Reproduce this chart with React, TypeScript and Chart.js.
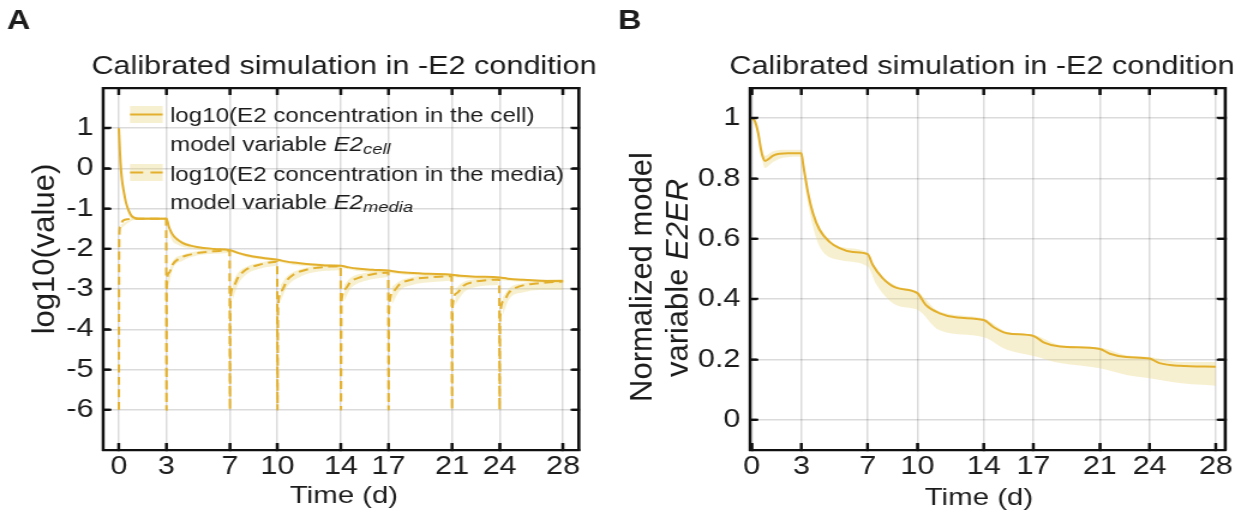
import React, { useEffect, useRef } from "react";
import { Chart, registerables } from "chart.js";

Chart.register(...registerables);

// ---------- data ----------
const dayTicks = [0, 3, 7, 10, 14, 17, 21, 24, 28];
const logTicks = [-6, -5, -4, -3, -2, -1, 0, 1];
const e2erTicks = [0, 0.2, 0.4, 0.6, 0.8, 1];

// Panel A: log10(E2 in the cell)
const cellT = [0, 0.05, 0.1, 0.2, 0.3, 0.45, 0.6, 0.8, 1.0, 1.3, 2.0, 3.0, 3.15, 3.35, 3.6, 4.0, 4.5, 5.0, 6.0, 7.0, 7.5, 8.0, 9.0, 10.0, 10.5, 11.0, 12.0, 13.0, 14.0, 14.5, 15.0, 16.0, 17.0, 17.5, 18.0, 19.5, 21.0, 21.5, 22.5, 24.0, 24.5, 25.5, 26.5, 28.0];
const cellV = [1.0, 0.55, 0.15, -0.3, -0.55, -0.85, -1.03, -1.18, -1.23, -1.25, -1.25, -1.25, -1.45, -1.62, -1.74, -1.85, -1.92, -1.96, -2.0, -2.03, -2.1, -2.15, -2.22, -2.27, -2.31, -2.34, -2.38, -2.41, -2.42, -2.46, -2.49, -2.52, -2.54, -2.57, -2.59, -2.62, -2.64, -2.67, -2.69, -2.71, -2.74, -2.77, -2.79, -2.8];
const cellBandT = [0, 0.5, 1, 3, 3.3, 3.7, 4.5, 5.5, 7, 8, 10, 11, 14, 15, 17, 18, 21, 22, 24, 25, 28];
const cellHi = [1.0, -0.9, -1.2, -1.22, -1.55, -1.72, -1.88, -1.96, -2.0, -2.12, -2.24, -2.32, -2.4, -2.47, -2.52, -2.57, -2.62, -2.66, -2.69, -2.73, -2.77];
const cellLo = [1.0, -1.0, -1.27, -1.28, -1.75, -1.9, -1.99, -2.04, -2.08, -2.2, -2.32, -2.4, -2.47, -2.55, -2.6, -2.64, -2.7, -2.74, -2.78, -2.81, -2.86];

// Panel A: log10(E2 in the media)
const mediaT = [0, 0.02, 0.08, 0.25, 0.6, 1.0, 2.0, 2.98, 3.0, 3.02, 3.15, 3.4, 3.8, 4.4, 5.2, 6.0, 6.98, 7.0, 7.03, 7.2, 7.5, 8.0, 8.8, 9.5, 9.98, 10.0, 10.03, 10.25, 10.6, 11.0, 11.7, 12.5, 13.3, 13.98, 14.0, 14.03, 14.25, 14.6, 15.1, 16.0, 16.98, 17.0, 17.03, 17.3, 17.7, 18.4, 19.5, 20.98, 21.0, 21.03, 21.3, 21.7, 22.4, 23.2, 23.98, 24.0, 24.03, 24.25, 24.6, 25.2, 26.3, 27.2, 28.0];
const mediaV = [-6, -1.8, -1.45, -1.3, -1.26, -1.25, -1.25, -1.25, -6, -2.9, -2.6, -2.38, -2.24, -2.15, -2.09, -2.06, -2.04, -6, -3.3, -2.95, -2.72, -2.52, -2.4, -2.34, -2.32, -6, -3.5, -3.04, -2.78, -2.64, -2.53, -2.47, -2.44, -2.43, -6, -3.33, -3.0, -2.82, -2.72, -2.63, -2.59, -6, -3.5, -3.05, -2.88, -2.77, -2.71, -2.68, -6, -3.45, -3.1, -2.92, -2.82, -2.78, -2.76, -6, -3.7, -3.3, -3.08, -2.94, -2.86, -2.83, -2.81];
const mediaBandT = [0.1, 1, 2.95, 3, 3.1, 3.4, 4, 5, 6.95, 7, 7.15, 7.5, 8, 9, 9.95, 10, 10.2, 10.6, 11.5, 12.5, 13.95, 14, 14.2, 14.6, 15.5, 16.95, 17, 17.2, 17.7, 18.5, 20, 20.95, 21, 21.2, 21.7, 22.5, 23.95, 24, 24.2, 24.6, 25.5, 26.5, 28];
const mediaHi = [-1.4, -1.23, -1.22, null, -2.65, -2.3, -2.15, -2.05, -2.0, null, -2.85, -2.6, -2.45, -2.33, -2.27, null, -2.9, -2.68, -2.5, -2.42, -2.39, null, -2.9, -2.72, -2.6, -2.54, null, -2.95, -2.8, -2.7, -2.65, -2.63, null, -3.0, -2.83, -2.75, -2.72, null, -3.2, -2.98, -2.85, -2.79, -2.75];
const mediaLo = [-1.5, -1.28, -1.28, null, -3.0, -2.5, -2.3, -2.16, -2.1, null, -3.3, -2.9, -2.65, -2.48, -2.42, null, -3.3, -2.95, -2.68, -2.57, -2.53, null, -3.3, -3.0, -2.8, -2.7, null, -3.4, -3.05, -2.9, -2.82, -2.79, null, -3.4, -3.1, -2.95, -2.9, null, -3.65, -3.25, -3.08, -3.02, -3.02];

// Panel B: normalized E2ER
const e2erT = [0, 0.2, 0.4, 0.55, 0.7, 0.82, 1.0, 1.3, 1.7, 2.2, 3.0, 3.1, 3.25, 3.45, 3.7, 4.1, 4.7, 5.3, 6.1, 7.0, 7.3, 7.9, 8.7, 10.0, 10.5, 11.3, 12.4, 14.0, 14.6, 15.4, 17.0, 17.6, 18.6, 21.0, 21.6, 22.6, 24.0, 24.6, 25.8, 28.0];
const e2erV = [1.0, 0.99, 0.95, 0.9, 0.867, 0.858, 0.864, 0.876, 0.882, 0.884, 0.884, 0.85, 0.8, 0.74, 0.685, 0.63, 0.59, 0.569, 0.556, 0.549, 0.514, 0.47, 0.438, 0.42, 0.381, 0.354, 0.339, 0.331, 0.307, 0.287, 0.278, 0.257, 0.243, 0.235, 0.219, 0.208, 0.203, 0.188, 0.179, 0.176];
const e2erBandT = [0, 0.4, 0.8, 1.3, 2, 3, 3.3, 3.7, 4.1, 5.3, 7, 7.5, 8.7, 10, 11.3, 14, 15.4, 17, 18.6, 21, 22.6, 24, 25.8, 28];
const e2erHi = [1.0, 0.96, 0.875, 0.89, 0.895, 0.895, 0.79, 0.7, 0.64, 0.575, 0.555, 0.5, 0.445, 0.425, 0.36, 0.336, 0.292, 0.282, 0.248, 0.24, 0.214, 0.208, 0.192, 0.192];
const e2erLo = [1.0, 0.94, 0.835, 0.855, 0.87, 0.872, 0.75, 0.64, 0.574, 0.53, 0.508, 0.45, 0.381, 0.365, 0.298, 0.274, 0.232, 0.212, 0.188, 0.171, 0.149, 0.138, 0.122, 0.113];

const titleText = "Calibrated simulation in -E2 condition";
const xTitle = "Time (d)";
const yTitleA = "log10(value)";
const legendLine1 = "log10(E2 concentration in the cell)";
const legendLine3 = "log10(E2 concentration in the media)";

// ---------- styling / geometry ----------
const TOTAL_W = 1039; // internal canvas width, shown stretched to 1247 px
const S = 1247 / TOTAL_W;
const H = 523;
const WA = 500;
const WB = TOTAL_W - WA;
const LEFT_B_PAGE = WA * S;
const FONT = "'Liberation Sans', Arial, Helvetica, sans-serif";
const INK = "#1c1c1c";
const FRAME = "#111111";
const LINE = "#E3B02E";
const BAND = "rgba(233, 214, 125, 0.36)";
const GRID = "rgba(0,0,0,0.14)";
const TICK_IN = -7;

const pts = (xs: number[], ys: (number | null)[]) => xs.map((x, i) => ({ x, y: ys[i] }));

type Run = { text: string; font: string; dy?: number };

function runsWidth(ctx: CanvasRenderingContext2D, runs: Run[]) {
  let w = 0;
  for (const r of runs) {
    ctx.font = r.font;
    w += ctx.measureText(r.text).width;
  }
  return w;
}
function drawRuns(ctx: CanvasRenderingContext2D, runs: Run[], x: number, y: number, align: "left" | "center" = "left") {
  let cx = align === "center" ? x - runsWidth(ctx, runs) / 2 : x;
  ctx.textAlign = "left";
  for (const r of runs) {
    ctx.font = r.font;
    ctx.fillText(r.text, cx, y + (r.dy || 0));
    cx += ctx.measureText(r.text).width;
  }
}
// rotated text drawn in undistorted page units
function drawRotated(ctx: CanvasRenderingContext2D, runs: Run[], pageX: number, pageY: number, canvasLeft: number) {
  ctx.save();
  ctx.scale(1 / S, 1);
  ctx.translate(pageX - canvasLeft, pageY);
  ctx.rotate(-Math.PI / 2);
  ctx.textBaseline = "alphabetic";
  drawRuns(ctx, runs, 0, 0, "center");
  ctx.restore();
}

// box around the plot area with inward ticks on all four sides
function drawFrame(chart: any, xTicks: number[], yTicks: number[]) {
  const ctx = chart.ctx as CanvasRenderingContext2D;
  const a = chart.chartArea;
  const xs = chart.scales.x;
  const ys = chart.scales.y;
  ctx.save();
  ctx.setLineDash([]);
  ctx.globalAlpha = 1;
  ctx.globalCompositeOperation = "source-over";
  ctx.strokeStyle = FRAME;
  ctx.lineWidth = 2.2;
  ctx.beginPath();
  ctx.rect(a.left, a.top, a.right - a.left, a.bottom - a.top);
  for (const v of xTicks) {
    const p = xs.getPixelForValue(v);
    ctx.moveTo(p, a.bottom);
    ctx.lineTo(p, a.bottom - 7);
    ctx.moveTo(p, a.top);
    ctx.lineTo(p, a.top + 7);
  }
  for (const v of yTicks) {
    const p = ys.getPixelForValue(v);
    ctx.moveTo(a.left, p);
    ctx.lineTo(a.left + 7 / S, p);
    ctx.moveTo(a.right, p);
    ctx.lineTo(a.right - 7 / S, p);
  }
  ctx.stroke();
  ctx.restore();
}

const decorA = {
  id: "decorA",
  afterDraw(chart: any) {
    const ctx = chart.ctx as CanvasRenderingContext2D;
    ctx.save();
    ctx.fillStyle = INK;
    ctx.textBaseline = "alphabetic";
    drawRuns(ctx, [{ text: "A", font: `bold 27px ${FONT}` }], 7 / S, 29);
    drawRuns(ctx, [{ text: titleText, font: `25.5px ${FONT}` }], 344 / S, 74, "center");
    drawRuns(ctx, [{ text: xTitle, font: `24.5px ${FONT}` }], 344 / S, 503, "center");
    drawRotated(ctx, [{ text: yTitleA, font: `31px ${FONT}` }], 54, 249, 0);

    // legend
    const rx0 = 130 / S, rx1 = 162.7 / S;
    ctx.fillStyle = BAND;
    ctx.fillRect(rx0, 106, rx1 - rx0, 17);
    ctx.fillRect(rx0, 164, rx1 - rx0, 17);
    ctx.strokeStyle = LINE;
    ctx.lineWidth = 2;
    ctx.beginPath();
    ctx.moveTo(rx0, 114.5);
    ctx.lineTo(rx1, 114.5);
    ctx.stroke();
    ctx.setLineDash([11, 6]);
    ctx.beginPath();
    ctx.moveTo(rx0, 172.5);
    ctx.lineTo(rx1, 172.5);
    ctx.stroke();
    ctx.setLineDash([]);
    ctx.fillStyle = INK;
    const tx = 170 / S;
    const f = `20.1px ${FONT}`;
    const fi = `italic 20.1px ${FONT}`;
    const fs = `italic 15.3px ${FONT}`;
    drawRuns(ctx, [{ text: legendLine1, font: f }], tx, 122);
    drawRuns(ctx, [{ text: "model variable ", font: f }, { text: "E2", font: fi }, { text: "cell", font: fs, dy: 3 }], tx, 151);
    drawRuns(ctx, [{ text: legendLine3, font: f }], tx, 180.5);
    drawRuns(ctx, [{ text: "model variable ", font: f }, { text: "E2", font: fi }, { text: "media", font: fs, dy: 3 }], tx, 209);
    ctx.restore();
    drawFrame(chart, dayTicks, logTicks);
  },
};

const decorB = {
  id: "decorB",
  afterDraw(chart: any) {
    const ctx = chart.ctx as CanvasRenderingContext2D;
    ctx.save();
    ctx.fillStyle = INK;
    ctx.textBaseline = "alphabetic";
    const toB = (px: number) => px / S - WA;
    drawRuns(ctx, [{ text: "B", font: `bold 27px ${FONT}` }], toB(618), 29);
    drawRuns(ctx, [{ text: titleText, font: `25.5px ${FONT}` }], toB(982), 74, "center");
    drawRuns(ctx, [{ text: xTitle, font: `24.5px ${FONT}` }], toB(979), 505, "center");
    drawRotated(ctx, [{ text: "Normalized model", font: `31px ${FONT}` }], 651.5, 277, LEFT_B_PAGE);
    drawRotated(ctx, [{ text: "variable ", font: `31px ${FONT}` }, { text: "E2ER", font: `italic 31px ${FONT}` }], 688, 278, LEFT_B_PAGE);
    ctx.restore();
    drawFrame(chart, dayTicks, e2erTicks);
  },
};

function lineDs(xs: number[], ys: number[], dash?: number[]) {
  return {
    data: pts(xs, ys),
    borderColor: LINE,
    borderWidth: 2,
    borderDash: dash || [],
    pointRadius: 0,
    fill: false,
    cubicInterpolationMode: "monotone",
  };
}
function bandDs(xs: number[], ys: (number | null)[], fill: any) {
  return {
    data: pts(xs, ys),
    borderColor: "rgba(0,0,0,0)",
    borderWidth: 0,
    backgroundColor: BAND,
    pointRadius: 0,
    fill,
    cubicInterpolationMode: "monotone",
  };
}

function axis(position: string, min: number, max: number, tickVals: number[], size: number, labels: boolean, padding: number) {
  const horizontal = position === "top" || position === "bottom";
  return {
    type: "linear",
    position,
    min,
    max,
    afterBuildTicks: (s: any) => {
      s.ticks = tickVals.map((v) => ({ value: v }));
    },
    afterFit: (s: any) => {
      if (horizontal) s.height = size;
      else s.width = size;
    },
    ticks: {
      display: labels,
      autoSkip: false,
      maxRotation: 0,
      padding,
      color: INK,
      font: { family: FONT, size: 25.5 },
      callback: (v: any) => String(v),
    },
    grid: {
      display: true,
      drawOnChartArea: labels,
      color: GRID,
      lineWidth: 1.5,
      drawTicks: true,
      tickLength: TICK_IN,
      tickColor: FRAME,
      tickWidth: 2,
    },
    border: { display: true, color: FRAME, width: 2.2 },
  };
}

function baseOptions(xmin: number, xmax: number, ymin: number, ymax: number, yTicks: number[], leftW: number, rightPad: number) {
  return {
    responsive: false,
    devicePixelRatio: 1,
    animation: false,
    events: [],
    layout: { padding: { left: 0, right: rightPad, top: 88, bottom: 0 } },
    plugins: { legend: { display: false }, tooltip: { enabled: false }, title: { display: false } },
    scales: {
      x: axis("bottom", xmin, xmax, dayTicks, H - 450, true, 2 - TICK_IN),
      y: axis("left", ymin, ymax, yTicks, leftW, true, 8 - TICK_IN),
      x2: axis("top", xmin, xmax, dayTicks, 0, false, 0),
      y2: axis("right", ymin, ymax, yTicks, 0, false, 0),
    },
  };
}

function configA(): any {
  return {
    type: "line",
    data: {
      datasets: [
        lineDs(cellT, cellV),
        lineDs(mediaT, mediaV, [8, 4.5]),
        bandDs(cellBandT, cellHi, "+1"),
        bandDs(cellBandT, cellLo, false),
        bandDs(mediaBandT, mediaHi, "+1"),
        bandDs(mediaBandT, mediaLo, false),
      ],
    },
    options: baseOptions(-1, 29, -7, 2, logTicks, 103 / S, WA - 579 / S),
    plugins: [decorA],
  };
}

function configB(): any {
  return {
    type: "line",
    data: {
      datasets: [lineDs(e2erT, e2erV), bandDs(e2erBandT, e2erHi, "+1"), bandDs(e2erBandT, e2erLo, false)],
    },
    options: baseOptions(-0.1, 28.55, -0.1, 1.1, e2erTicks, 750 / S - WA, WB - (1225 / S - WA)),
    plugins: [decorB],
  };
}

function Panel({ make, width, left }: { make: () => any; width: number; left: number }) {
  const ref = useRef<HTMLCanvasElement | null>(null);
  useEffect(() => {
    if (!ref.current) return;
    const chart = new Chart(ref.current, make());
    return () => chart.destroy();
  }, []);
  return (
    <canvas
      ref={ref}
      width={width}
      height={H}
      style={{ position: "absolute", left: `${left}px`, top: "0px", width: `${width * S}px`, height: `${H}px` }}
    />
  );
}

export default function App() {
  return (
    <div style={{ position: "absolute", left: 0, top: 0, width: "1247px", height: `${H}px`, background: "#fff", overflow: "hidden" }}>
      <Panel make={configA} width={WA} left={0} />
      <Panel make={configB} width={WB} left={LEFT_B_PAGE} />
    </div>
  );
}
